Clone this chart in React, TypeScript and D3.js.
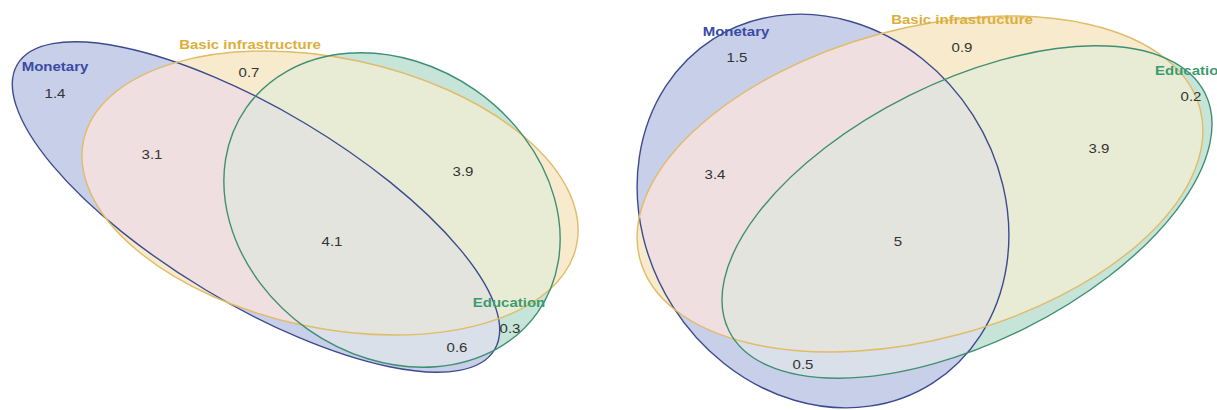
import * as React from 'react';
import * as d3 from 'd3';

// sets and region values
const setNames = ['Monetary', 'Basic infrastructure', 'Education'];
const regionKeys = ['M', 'B', 'E', 'MB', 'ME', 'BE', 'MBE'];
const leftValues = [1.4, 0.7, 0.3, 3.1, 0.6, 3.9, 4.1];
const rightValues = [1.5, 0.9, 0.2, 3.4, 0.5, 3.9, 5];

// fitted euler layout (arbitrary units, 1 unit = 100px)
const leftShapes = [
  { cx: 2.56, cy: 2.07, rx: 2.78, ry: 0.97, angle: 30.9 },
  { cx: 3.3, cy: 1.93, rx: 2.52, ry: 1.35, angle: 12 },
  { cx: 3.92, cy: 2.1, rx: 1.78, ry: 1.46, angle: 35 },
];
const rightShapes = [
  { cx: 8.23, cy: 2.11, rx: 2.04, ry: 1.78, angle: 57.5 },
  { cx: 9.2, cy: 1.84, rx: 2.9, ry: 1.554, angle: -15.1 },
  { cx: 9.67, cy: 2.12, rx: 2.66, ry: 1.3, angle: -26.5 },
];
// label anchors: [x, baseline]
const leftSetLabels = [[0.55, 0.71], [2.5, 0.49], [5.09, 3.07]];
const rightSetLabels = [[7.36, 0.36], [9.62, 0.24], [11.55, 0.75]];
const leftRegionLabels = [[0.55, 0.98], [2.49, 0.77], [5.1, 3.33], [1.52, 1.59], [4.57, 3.52], [4.63, 1.76], [3.32, 2.46]];
const rightRegionLabels = [[7.37, 0.62], [9.62, 0.52], [11.91, 1.01], [7.15, 1.79], [8.03, 3.69], [10.99, 1.53], [8.98, 2.46]];

const strokeColors = ['#3c4b8e', '#e0bb68', '#3f8f72'];
const labelColors = ['#3a4aa5', '#dcae3a', '#3d9a6e'];
const regionColors: Record<string, string> = {
  M: '#c8cfe8',
  B: '#f8ebcd',
  E: '#c6e5d8',
  MB: '#efdfe0',
  ME: '#d9e0e9',
  BE: '#e8ecd5',
  MBE: '#e3e4de',
};

const W = 1217;
const H = 410;
const x = d3.scaleLinear().domain([0, 12.17]).range([0, W]);
const y = d3.scaleLinear().domain([0, 4.1]).range([0, H]);

const font = '"Liberation Sans", Arial, sans-serif';

function Venn({ id, shapes, values, setLabels, regionLabels }: any) {
  const el = (i: number, props: any = {}) => {
    const s = shapes[i];
    const cx = x(s.cx);
    const cy = y(s.cy);
    return (
      <ellipse
        cx={cx}
        cy={cy}
        rx={x(s.rx) - x(0)}
        ry={y(s.ry) - y(0)}
        transform={`rotate(${s.angle},${cx},${cy})`}
        {...props}
      />
    );
  };
  const clip = (i: number) => `url(#${id}-c${i})`;
  return (
    <g>
      <defs>
        {shapes.map((_: any, i: number) => (
          <clipPath id={`${id}-c${i}`} key={i}>{el(i)}</clipPath>
        ))}
      </defs>
      {/* single sets */}
      {el(0, { fill: regionColors.M })}
      {el(1, { fill: regionColors.B })}
      {el(2, { fill: regionColors.E })}
      {/* pairs */}
      <g clipPath={clip(0)}>{el(1, { fill: regionColors.MB })}</g>
      <g clipPath={clip(0)}>{el(2, { fill: regionColors.ME })}</g>
      <g clipPath={clip(1)}>{el(2, { fill: regionColors.BE })}</g>
      {/* triple */}
      <g clipPath={clip(0)}>
        <g clipPath={clip(1)}>{el(2, { fill: regionColors.MBE })}</g>
      </g>
      {shapes.map((_: any, i: number) => (
        <g key={i}>{el(i, { fill: 'none', stroke: strokeColors[i], strokeWidth: 1.4 })}</g>
      ))}
      {setLabels.map((p: number[], i: number) => (
        <text
          key={i}
          transform={`translate(${x(p[0])},${y(p[1])}) scale(1.2,1)`}
          textAnchor={id === 'right' && i === 2 ? 'start' : 'middle'}
          fontFamily={font}
          fontSize={12.5}
          fontWeight="bold"
          fill={labelColors[i]}
        >
          {setNames[i]}
        </text>
      ))}
      {regionKeys.map((k, i) => (
        <text
          key={k}
          transform={`translate(${x(regionLabels[i][0])},${y(regionLabels[i][1])}) scale(1.2,1)`}
          textAnchor="middle"
          fontFamily={font}
          fontSize={12.5}
          fill="#333"
        >
          {values[i]}
        </text>
      ))}
    </g>
  );
}

export default function App() {
  return (
    <svg width={W} height={H} style={{ position: 'absolute', left: 0, top: 0, background: '#fff' }}>
      <Venn id="left" shapes={leftShapes} values={leftValues} setLabels={leftSetLabels} regionLabels={leftRegionLabels} />
      <Venn id="right" shapes={rightShapes} values={rightValues} setLabels={rightSetLabels} regionLabels={rightRegionLabels} />
    </svg>
  );
}
